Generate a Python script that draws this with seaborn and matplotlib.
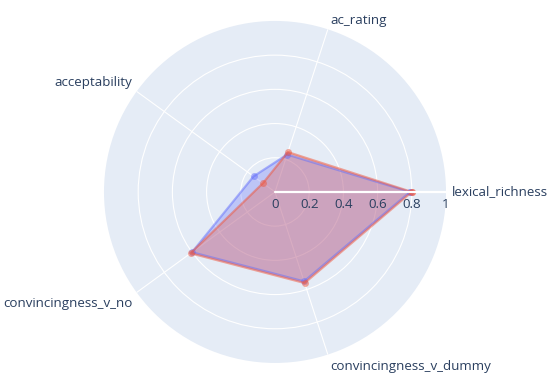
import numpy as np
import seaborn as sns
import matplotlib.pyplot as plt

categories = ['lexical_richness', 'ac_rating', 'acceptability',
              'convincingness_v_no', 'convincingness_v_dummy']
series_a = [0.79, 0.23, 0.155, 0.60, 0.55]
series_b = [0.80, 0.245, 0.087, 0.61, 0.56]
radial_ticks = [0, 0.2, 0.4, 0.6, 0.8, 1]

TEXT_COLOR = '#2a3f5f'
BG_COLOR = '#E5ECF6'
FONT_SIZE = 9.6

sns.set_style('white')
plt.rcParams['font.family'] = ['Open Sans', 'DejaVu Sans']

fig = plt.figure(figsize=(5.49, 3.81), dpi=100)
ax = fig.add_axes([0.1894, 0.0472, 0.623, 0.898], projection='polar')
ax.set_facecolor(BG_COLOR)
ax.spines['polar'].set_visible(False)
ax.set_axisbelow(True)

theta = np.linspace(0, 2 * np.pi, len(categories), endpoint=False)
theta_closed = np.append(theta, 2 * np.pi)

for values, color in [(series_a, '#636efa'), (series_b, '#EF553B')]:
    vals = np.append(values, values[0])
    ax.fill(theta_closed, vals, color=color, alpha=0.3, linewidth=0, zorder=2)
    sns.lineplot(x=theta_closed, y=vals, sort=False, estimator=None, ax=ax,
                 color=color, alpha=0.5, linewidth=1.6, marker='o',
                 markersize=5, markeredgewidth=0, zorder=3)

ax.set_ylim(0, 1)
ax.set_yticks([t for t in radial_ticks if 0 < t < 1])
ax.set_yticklabels([])
ax.set_xticks(theta)
ax.set_xticklabels([])
ax.grid(True, color='white', linewidth=0.8)
ax.set_xlabel('')
ax.set_ylabel('')

# radial axis line along 0 degrees
ax.plot([0, 0], [0, 1], color='white', linewidth=1.6, zorder=4)
for t in radial_ticks:
    label = '0' if t == 0 else ('1' if t == 1 else f'{t:.1f}')
    ax.annotate(label, xy=(0, t), xytext=(0, -4), textcoords='offset points',
                ha='center', va='top', fontsize=FONT_SIZE, color=TEXT_COLOR, zorder=5)

label_opts = [((4, 0), 'left', 'center'),
              ((2, 2), 'left', 'bottom'),
              ((-3, 2), 'right', 'bottom'),
              ((-3, -3), 'right', 'top'),
              ((2, -4), 'left', 'top')]
for ang, cat, (off, ha, va) in zip(theta, categories, label_opts):
    ax.annotate(cat, xy=(ang, 1), xytext=off, textcoords='offset points',
                ha=ha, va=va, fontsize=FONT_SIZE, color=TEXT_COLOR, annotation_clip=False)

fig.savefig('out.png', dpi=100)
